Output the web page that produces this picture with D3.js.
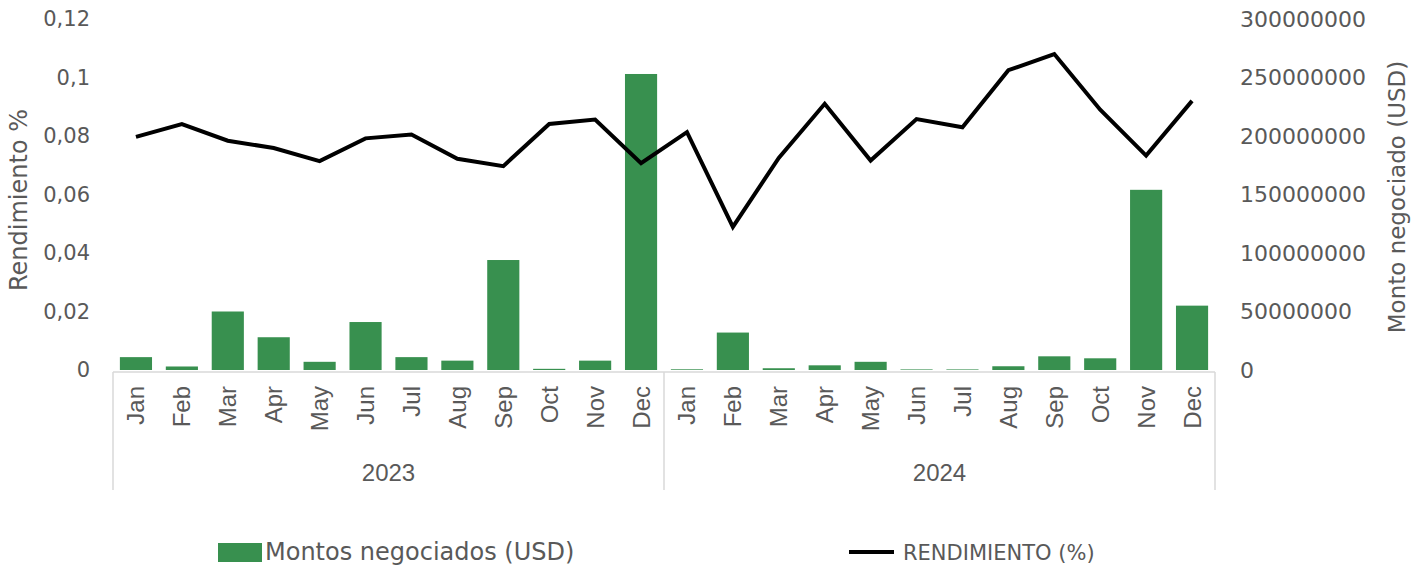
<html>
<head>
  <script src="https://d3js.org/d3.v7.min.js"></script>
  <title>Montos negociados y rendimiento</title>
</head>
<body style="margin:0;background:#fff">
  <div id="chart"></div>
  <script>
    // data
    var years = ["2023", "2024"];
    var months = ["Jan","Feb","Mar","Apr","May","Jun","Jul","Aug","Sep","Oct","Nov","Dec"];
    var montos2023 = [11e6, 3e6, 50e6, 28e6, 7e6, 41e6, 11e6, 8e6, 94e6, 1e6, 8e6, 253e6];
    var montos2024 = [0.6e6, 32e6, 1.5e6, 4e6, 7e6, 0.5e6, 0.5e6, 3.2e6, 11.7e6, 10e6, 154e6, 55e6];
    var rend2023 = [0.0797, 0.0841, 0.0784, 0.0759, 0.0714, 0.0792, 0.0805, 0.0722, 0.0697, 0.0841, 0.0856, 0.0707];
    var rend2024 = [0.0813, 0.0489, 0.0725, 0.0910, 0.0716, 0.0858, 0.0830, 0.1025, 0.1080, 0.0890, 0.0733, 0.0920];
    var leftTicks = [0, 0.02, 0.04, 0.06, 0.08, 0.1, 0.12];
    var rightTicks = [0, 50000000, 100000000, 150000000, 200000000, 250000000, 300000000];

    var rows = [];
    years.forEach(function(y, yi){
      months.forEach(function(m, mi){
        rows.push({
          key: y + "-" + m, year: y, month: m,
          monto: (yi == 0 ? montos2023 : montos2024)[mi],
          rend: (yi == 0 ? rend2023 : rend2024)[mi]
        });
      });
    });

    var W = 1421, H = 569;
    var plotLeft = 113, plotRight = 1215, plotTop = 19, plotBottom = 370;
    var textColor = "#595959";
    var font = "'DejaVu Sans', sans-serif";
    var catFont = "'Liberation Sans', Arial, sans-serif";

    var svg = d3.select("#chart").append("svg")
      .attr("width", W).attr("height", H)
      .style("font-family", font);

    var x = d3.scaleBand()
      .domain(rows.map(function(d){ return d.key; }))
      .range([plotLeft, plotRight])
      .paddingInner(0.3)
      .paddingOuter(0.15);
    var yL = d3.scaleLinear().domain([0, 0.12]).range([plotBottom, plotTop]);
    var yR = d3.scaleLinear().domain([0, 300000000]).range([plotBottom, plotTop]);

    // bars
    svg.append("g").selectAll("rect")
      .data(rows).enter().append("rect")
      .attr("x", function(d){ return x(d.key); })
      .attr("width", x.bandwidth())
      .attr("y", function(d){ return yR(d.monto); })
      .attr("height", function(d){ return plotBottom - yR(d.monto); })
      .attr("fill", "#38904f");

    // line
    var line = d3.line()
      .x(function(d){ return x(d.key) + x.bandwidth() / 2; })
      .y(function(d){ return yL(d.rend); });
    svg.append("path")
      .datum(rows)
      .attr("d", line)
      .attr("fill", "none")
      .attr("stroke", "#000")
      .attr("stroke-width", 4)
      .attr("stroke-linejoin", "miter");

    // left axis
    var axL = svg.append("g")
      .attr("transform", "translate(93,0)")
      .call(d3.axisLeft(yL).tickValues(leftTicks).tickSize(0)
        .tickFormat(function(d){ return String(+d.toFixed(2)).replace(".", ","); }));
    axL.select(".domain").remove();
    axL.selectAll("text").attr("fill", textColor).style("font-size", "21px").style("font-family", font);

    // right axis
    var axR = svg.append("g")
      .attr("transform", "translate(1237,0)")
      .call(d3.axisRight(yR).tickValues(rightTicks).tickSize(0).tickFormat(d3.format("d")));
    axR.select(".domain").remove();
    axR.selectAll("text").attr("fill", textColor).style("font-size", "22px").style("font-family", font);

    // axis titles
    svg.append("text")
      .attr("transform", "translate(27,200) rotate(-90)")
      .attr("text-anchor", "middle")
      .attr("fill", textColor)
      .style("font-size", "24px")
      .text("Rendimiento %");
    svg.append("text")
      .attr("transform", "translate(1405,197) rotate(-90)")
      .attr("text-anchor", "middle")
      .attr("fill", textColor)
      .style("font-size", "23px")
      .text("Monto negociado (USD)");

    // category box (two level axis)
    var boxTop = plotBottom + 2, boxBottom = 490;
    var sep = plotLeft + x.step() * (x.paddingOuter() + 12 - x.paddingInner() / 2);
    svg.append("line")
      .attr("x1", plotLeft).attr("x2", plotRight).attr("y1", boxTop).attr("y2", boxTop)
      .attr("stroke", "#d9d9d9").attr("stroke-width", 1.5);
    [plotLeft, sep, plotRight].forEach(function(px){
      svg.append("line")
        .attr("x1", px).attr("x2", px).attr("y1", boxTop).attr("y2", boxBottom)
        .attr("stroke", "#d9d9d9").attr("stroke-width", 1.5);
    });

    svg.append("g").selectAll("text")
      .data(rows).enter().append("text")
      .attr("transform", function(d){
        return "translate(" + (x(d.key) + x.bandwidth() / 2 + 8.5) + ",386) rotate(-90)";
      })
      .attr("text-anchor", "end")
      .attr("fill", textColor)
      .style("font-family", catFont)
      .style("font-size", "24px")
      .text(function(d){ return d.month; });

    svg.append("g").selectAll("text")
      .data(years).enter().append("text")
      .attr("x", function(y, i){ return i == 0 ? (plotLeft + sep) / 2 : (sep + plotRight) / 2; })
      .attr("y", 481)
      .attr("text-anchor", "middle")
      .attr("fill", textColor)
      .style("font-family", catFont)
      .style("font-size", "24px")
      .text(function(y){ return y; });

    // legend
    var lg = svg.append("g");
    lg.append("rect")
      .attr("x", 218).attr("y", 543).attr("width", 44).attr("height", 19)
      .attr("fill", "#38904f");
    lg.append("text")
      .attr("x", 265).attr("y", 560)
      .attr("fill", textColor)
      .style("font-size", "24px")
      .text("Montos negociados (USD)");
    lg.append("line")
      .attr("x1", 849).attr("x2", 894).attr("y1", 552).attr("y2", 552)
      .attr("stroke", "#000").attr("stroke-width", 4);
    lg.append("text")
      .attr("x", 903).attr("y", 560)
      .attr("fill", textColor)
      .style("font-size", "21px")
      .text("RENDIMIENTO (%)");
  </script>
</body>
</html>
